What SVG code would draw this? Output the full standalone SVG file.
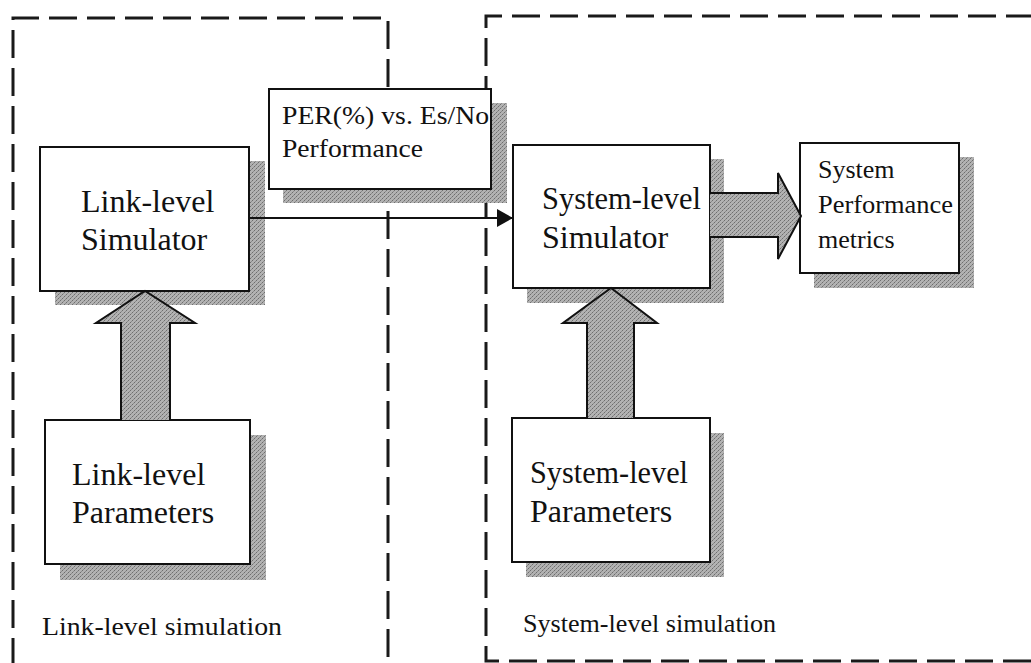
<svg xmlns="http://www.w3.org/2000/svg" width="1031" height="663" viewBox="0 0 1031 663">
  <defs>
    <!-- halftone-like grey used for drop shadows and block arrows -->
    <pattern id="halftone" width="4" height="4" patternUnits="userSpaceOnUse">
      <rect width="4" height="4" fill="#b2b2b2"/>
      <rect x="0" y="0" width="1" height="1" fill="#6e6e6e"/>
      <rect x="2" y="2" width="1" height="1" fill="#6e6e6e"/>
      <rect x="1" y="3" width="1" height="1" fill="#8c8c8c"/>
      <rect x="3" y="1" width="1" height="1" fill="#8c8c8c"/>
    </pattern>
    <marker id="arrowhead" viewBox="0 0 16 18" refX="16" refY="9" markerWidth="16" markerHeight="18" markerUnits="userSpaceOnUse" orient="auto">
      <path d="M0,0 L16,9 L0,18 Z" fill="#111"/>
    </marker>
    <style>
      .region { fill: none; stroke: #1a1a1a; stroke-width: 3; stroke-dasharray: 28 10; }
      .shadow { fill: url(#halftone); }
      .box { fill: #fff; stroke: #111; stroke-width: 2; }
      .block { fill: url(#halftone); stroke: #111; stroke-width: 2; stroke-linejoin: miter; }
      .line { fill: none; stroke: #111; stroke-width: 2; }
      text { font-family: "Liberation Serif", "Times New Roman", serif; fill: #111; }
      .big { font-size: 32px; }
      .mid { font-size: 26px; }
    </style>
  </defs>

  <rect width="1031" height="663" fill="#fff"/>

  <!-- dashed simulation regions -->
  <g id="region-link">
    <path class="region" d="M13,666 V18 H388 V666"/>
    <text x="42" y="635" class="mid" textLength="240" lengthAdjust="spacingAndGlyphs">Link-level simulation</text>
  </g>
  <g id="region-system">
    <path class="region" d="M1034,16 H486 V661 H1034"/>
    <text x="523" y="632" class="mid" textLength="253" lengthAdjust="spacingAndGlyphs">System-level simulation</text>
  </g>

  <!-- nodes -->
  <g id="per-performance">
    <rect class="shadow" x="283" y="103" width="224" height="100"/>
    <rect class="box" x="269" y="89" width="222" height="100"/>
    <text x="282" y="124" class="mid" textLength="207" lengthAdjust="spacingAndGlyphs">PER(%) vs. Es/No</text>
    <text x="282" y="157" class="mid" textLength="141" lengthAdjust="spacingAndGlyphs">Performance</text>
  </g>

  <g id="link-simulator">
    <rect class="shadow" x="55" y="161" width="210" height="144"/>
    <rect class="box" x="40" y="147" width="209" height="144"/>
    <text x="81" y="212" class="big">Link-level</text>
    <text x="81" y="250" class="big">Simulator</text>
  </g>

  <g id="link-parameters">
    <rect class="shadow" x="60" y="435" width="206" height="145"/>
    <rect class="box" x="45" y="420" width="205" height="144"/>
    <text x="72" y="485" class="big">Link-level</text>
    <text x="72" y="523" class="big">Parameters</text>
  </g>

  <g id="system-simulator">
    <rect class="shadow" x="527" y="159" width="197" height="144"/>
    <rect class="box" x="513" y="145" width="197" height="143"/>
    <text x="542" y="209" class="big" textLength="159" lengthAdjust="spacingAndGlyphs">System-level</text>
    <text x="542" y="248" class="big">Simulator</text>
  </g>

  <g id="system-parameters">
    <rect class="shadow" x="526" y="433" width="198" height="144"/>
    <rect class="box" x="512" y="418" width="198" height="144"/>
    <text x="530" y="483" class="big" textLength="158" lengthAdjust="spacingAndGlyphs">System-level</text>
    <text x="530" y="522" class="big">Parameters</text>
  </g>

  <g id="system-metrics">
    <rect class="shadow" x="814" y="157" width="160" height="131"/>
    <rect class="box" x="800" y="143" width="159" height="130"/>
    <text x="818" y="178" class="mid">System</text>
    <text x="818" y="213" class="mid" textLength="135" lengthAdjust="spacingAndGlyphs">Performance</text>
    <text x="818" y="248" class="mid">metrics</text>
  </g>

  <!-- connectors -->
  <g id="connectors">
    <line class="line" x1="249" y1="218" x2="513" y2="218" marker-end="url(#arrowhead)"/>
    <path class="block" d="M121,420 V323 H96 L145,291 L195,323 H170 V420"/>
    <path class="block" d="M587,418 V323 H563 L611,288 L657,323 H634 V418"/>
    <path class="block" d="M710,193 H778 V173 L801,216 L778,259 V237 H710"/>
  </g>
</svg>
